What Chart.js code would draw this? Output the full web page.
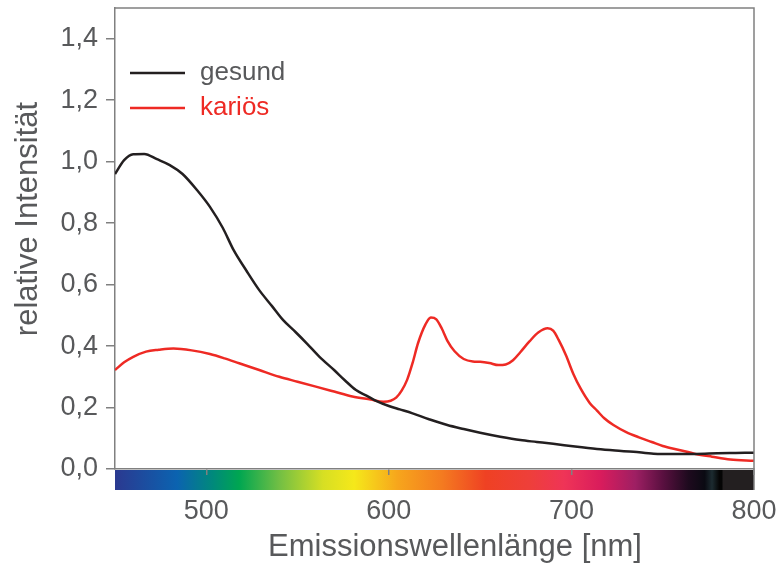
<!DOCTYPE html>
<html>
<head>
  <meta charset="UTF-8">
  <title>Emissionsspektrum gesund / kariös</title>
  <script src="https://cdn.jsdelivr.net/npm/chart.js"></script>
  <style>
    html, body { margin: 0; padding: 0; background: #fff; }
    #wrap { width: 781px; height: 566px; }
  </style>
</head>
<body>
  <div id="wrap"><canvas id="spectrum" width="781" height="566"></canvas></div>

  <script>
    // wavelengths in nm, relative intensity
    const gesundNm = [450, 455, 460, 466, 473, 480, 487, 495, 502, 509, 515, 522, 529, 536, 542, 549, 555, 562, 570, 576, 582, 588, 593, 600, 606, 613, 622, 632, 641, 650, 661, 672, 681, 690, 702, 714, 724, 734, 745, 757, 768, 780, 790, 800];
    const gesund   = [0.96, 1.005, 1.024, 1.025, 1.008, 0.989, 0.96, 0.907, 0.853, 0.785, 0.712, 0.645, 0.582, 0.53, 0.485, 0.445, 0.409, 0.365, 0.322, 0.288, 0.257, 0.238, 0.222, 0.205, 0.194, 0.181, 0.162, 0.143, 0.13, 0.118, 0.105, 0.094, 0.088, 0.082, 0.073, 0.065, 0.06, 0.056, 0.05, 0.049, 0.049, 0.051, 0.052, 0.053];

    const kariosNm = [450, 455, 460, 467, 474, 482, 492, 502, 510, 518, 529, 540, 550, 560, 570, 580, 590, 597, 601, 604, 607, 610, 613, 616, 620, 623, 626, 629, 632, 636, 641, 646, 650, 655, 660, 664, 668, 672, 677, 682, 687, 690, 693, 697, 701, 705, 710, 714, 718, 723, 730, 737, 744, 750, 759, 768, 777, 787, 800];
    const karios   = [0.322, 0.347, 0.365, 0.382, 0.388, 0.392, 0.386, 0.374, 0.36, 0.344, 0.322, 0.3, 0.284, 0.268, 0.252, 0.236, 0.226, 0.219, 0.222, 0.232, 0.255, 0.29, 0.345, 0.41, 0.47, 0.493, 0.487, 0.457, 0.418, 0.383, 0.358, 0.35, 0.349, 0.345, 0.338, 0.34, 0.354, 0.38, 0.415, 0.445, 0.458, 0.45, 0.42, 0.37, 0.31, 0.262, 0.215, 0.19, 0.165, 0.143, 0.12, 0.103, 0.088, 0.075, 0.062, 0.049, 0.04, 0.031, 0.027];

    const xTickValues = [500, 600, 700, 800];
    const yTickValues = [0, 0.2, 0.4, 0.6, 0.8, 1.0, 1.2, 1.4];

    const legendLabels = ['gesund', 'kariös'];
    const xTitle = 'Emissionswellenlänge [nm]';
    const yTitle = 'relative Intensität';

    // visible spectrum strip under the x axis: [nm, colour]
    const spectrumStops = [
      [450, '#2b3990'], [484, '#0b63b0'], [504, '#008a7a'], [518, '#00a651'],
      [540, '#72bf44'], [564, '#d7df23'], [581, '#f5e81a'], [605, '#f7a51c'],
      [629, '#f47b20'], [653, '#ef4123'], [677, '#ee3f3a'], [696, '#ef3457'],
      [716, '#d91c5c'], [735, '#9e1f63'], [750, '#5a1040'], [764, '#1e0a1e'],
      [773, '#0a0a12'], [777, '#1c2b30'], [781, '#050505'], [782.5, '#050505'],
      [783, '#231f20'], [800, '#231f20']
    ];

    const FONT = '"Liberation Sans", Arial, sans-serif';
    const TEXT = '#58595b';
    const FRAME = '#808080';
    const BLACK = '#231f20';
    const RED = '#ee2a24';

    const toPoints = (xs, ys) => xs.map((x, i) => ({ x: x, y: ys[i] }));
    const fmt = v => v.toFixed(1).replace('.', ',');

    const decorations = {
      id: 'decorations',
      beforeDraw(chart) {
        const ctx = chart.ctx;
        const area = chart.chartArea;
        const xs = chart.scales.x;
        const x0 = xs.getPixelForValue(450), x1 = xs.getPixelForValue(800);
        const g = ctx.createLinearGradient(x0, 0, x1, 0);
        spectrumStops.forEach(([nm, c]) => {
          g.addColorStop((xs.getPixelForValue(nm) - x0) / (x1 - x0), c);
        });
        ctx.save();
        ctx.fillStyle = g;
        ctx.fillRect(x0, area.bottom + 1, x1 - x0, 20);
        ctx.restore();
      },
      afterDraw(chart) {
        const ctx = chart.ctx;
        const area = chart.chartArea;
        ctx.save();
        // frame top + right
        ctx.strokeStyle = FRAME;
        ctx.lineWidth = 1.5;
        ctx.beginPath();
        ctx.moveTo(area.left, area.top);
        ctx.lineTo(area.right, area.top);
        ctx.lineTo(area.right, area.bottom + 21);
        ctx.stroke();

        // legend
        const colors = [BLACK, RED];
        const textColors = [TEXT, RED];
        ctx.font = '26px ' + FONT;
        ctx.textBaseline = 'middle';
        legendLabels.forEach((lab, i) => {
          const y = 73 + i * 35;
          ctx.strokeStyle = colors[i];
          ctx.lineWidth = 2.5;
          ctx.beginPath();
          ctx.moveTo(130, y);
          ctx.lineTo(185, y);
          ctx.stroke();
          ctx.fillStyle = textColors[i];
          ctx.fillText(lab, 200, y);
        });

        // axis titles
        ctx.fillStyle = TEXT;
        ctx.font = '31px ' + FONT;
        ctx.textAlign = 'center';
        ctx.textBaseline = 'middle';
        ctx.fillText(xTitle, 455, 547);
        ctx.translate(28, 219);
        ctx.rotate(-Math.PI / 2);
        ctx.fillText(yTitle, 0, 0);
        ctx.restore();
      }
    };

    new Chart(document.getElementById('spectrum'), {
      type: 'line',
      data: {
        datasets: [
          {
            label: legendLabels[0],
            data: toPoints(gesundNm, gesund),
            borderColor: BLACK,
            borderWidth: 2.5,
            pointRadius: 0,
            cubicInterpolationMode: 'monotone',
            fill: false
          },
          {
            label: legendLabels[1],
            data: toPoints(kariosNm, karios),
            borderColor: RED,
            borderWidth: 2.5,
            pointRadius: 0,
            cubicInterpolationMode: 'monotone',
            fill: false
          }
        ]
      },
      options: {
        responsive: false,
        animation: false,
        layout: { padding: { top: 8, right: 27, left: 0, bottom: 0 } },
        plugins: {
          legend: { display: false },
          tooltip: { enabled: false }
        },
        scales: {
          x: {
            type: 'linear',
            min: 450,
            max: 800,
            afterBuildTicks: s => { s.ticks = xTickValues.map(v => ({ value: v })); },
            afterFit: s => { s.height = 97; s.paddingLeft = 0; s.paddingRight = 0; },
            grid: { drawOnChartArea: false, tickLength: 6, color: FRAME, lineWidth: 1.5 },
            border: { color: FRAME, width: 1.5 },
            ticks: { color: TEXT, font: { family: FONT, size: 27 }, padding: 20, maxRotation: 0 }
          },
          y: {
            min: 0,
            max: 1.5,
            afterBuildTicks: s => { s.ticks = yTickValues.map(v => ({ value: v })); },
            afterFit: s => { s.width = 115; s.paddingTop = 0; s.paddingBottom = 0; },
            grid: { drawOnChartArea: false, tickLength: 9, color: FRAME, lineWidth: 1.5 },
            border: { color: FRAME, width: 1.5 },
            ticks: { color: TEXT, font: { family: FONT, size: 27 }, padding: 8, callback: v => fmt(v) }
          }
        }
      },
      plugins: [decorations]
    });
  </script>
</body>
</html>
